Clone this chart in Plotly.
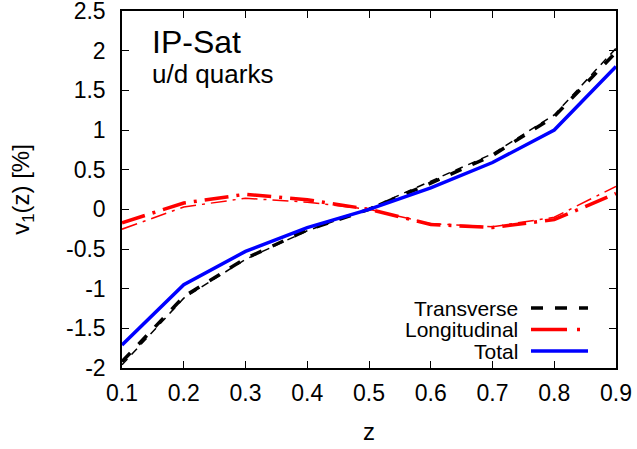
import plotly.graph_objects as go

z = [0.1, 0.2, 0.3, 0.4, 0.5, 0.6, 0.7, 0.8, 0.9]
transverse = [-1.92, -1.10, -0.62, -0.26, 0.0, 0.33, 0.68, 1.17, 1.98]
transverse_thin = [-1.96, -1.12, -0.63, -0.27, 0.01, 0.35, 0.70, 1.19, 2.03]
longitudinal = [-0.17, 0.08, 0.19, 0.12, 0.0, -0.19, -0.23, -0.13, 0.20]
longitudinal_thin = [-0.25, 0.03, 0.14, 0.09, 0.0, -0.18, -0.22, -0.10, 0.29]
total = [-1.71, -0.95, -0.53, -0.23, 0.0, 0.27, 0.59, 1.0, 1.80]

x_ticks = [0.1, 0.2, 0.3, 0.4, 0.5, 0.6, 0.7, 0.8, 0.9]
y_ticks = [-2, -1.5, -1, -0.5, 0, 0.5, 1, 1.5, 2, 2.5]
y_tick_text = ["-2", "-1.5", "-1", "-0.5", "0", "0.5", "1", "1.5", "2", "2.5"]

FONT = "Liberation Sans"

ML, MR, MT, MB = 122, 21, 11, 81

fig = go.Figure()
fig.add_trace(go.Scatter(x=z, y=transverse_thin, mode="lines", showlegend=False,
                         line=dict(color="black", width=1.5, dash="8px,6px")))
fig.add_trace(go.Scatter(x=z, y=transverse, mode="lines", name="Transverse", showlegend=False,
                         line=dict(color="black", width=3.5, dash="12px,12px")))
fig.add_trace(go.Scatter(x=z, y=longitudinal_thin, mode="lines", showlegend=False,
                         line=dict(color="#ff0000", width=1.5, dash="16px,6px,3px,6px")))
fig.add_trace(go.Scatter(x=z, y=longitudinal, mode="lines", name="Longitudinal", showlegend=False,
                         line=dict(color="#ff0000", width=3.5, dash="24px,8px,3px,8px")))
fig.add_trace(go.Scatter(x=z, y=total, mode="lines", name="Total", showlegend=False,
                         line=dict(color="#0000ff", width=3.5)))

H = 368 - MT
W = 616 - 122


def px_x(p):
    return (p - 122) / W


def px_y(p):
    return 1 - (p - MT) / H


# legend (text right, sample line to the right of the text)
legend_items = [("Transverse", "black", "12px,12px"),
                ("Longitudinal", "#ff0000", "36px,10px,3px,10px"),
                ("Total", "#0000ff", "solid")]
for i, (label, color, dash) in enumerate(legend_items):
    ypix = 308 + i * 21.5
    fig.add_annotation(xref="paper", yref="paper", x=px_x(520), y=px_y(ypix),
                       text=label, showarrow=False, xanchor="right", yanchor="middle",
                       font=dict(family=FONT, size=21, color="black"))
    fig.add_shape(type="line", xref="paper", yref="paper",
                  x0=px_x(531), x1=px_x(588), y0=px_y(ypix), y1=px_y(ypix),
                  line=dict(color=color, width=3.5, dash=dash))

fig.add_annotation(xref="paper", yref="paper", x=px_x(150), y=px_y(42),
                   text="IP-Sat", showarrow=False, xanchor="left", yanchor="middle",
                   font=dict(family=FONT, size=32, color="black"))
fig.add_annotation(xref="paper", yref="paper", x=px_x(150), y=px_y(74),
                   text="u/d quarks", showarrow=False, xanchor="left", yanchor="middle",
                   font=dict(family=FONT, size=26, color="black"))

axis_common = dict(showgrid=False, zeroline=False, showline=True, linecolor="black",
                   linewidth=1.5, mirror="ticks", ticks="inside", ticklen=7,
                   tickcolor="black", tickwidth=1, automargin=False,
                   ticklabeloverflow="allow",
                   tickfont=dict(family=FONT, size=23, color="black"))

fig.update_xaxes(range=[0.1, 0.9], tickvals=x_ticks, ticktext=[str(v) for v in x_ticks],
                 ticklabelstandoff=4,
                 title=dict(text="z", font=dict(family=FONT, size=24, color="black"), standoff=18),
                 **axis_common)
fig.update_yaxes(range=[-2, 2.5], tickvals=y_ticks, ticktext=y_tick_text,
                 ticklabelstandoff=10,
                 title=dict(text="v<sub>1</sub>(z) [%]", font=dict(family=FONT, size=24, color="black"),
                            standoff=30),
                 **axis_common)

fig.update_layout(width=637, height=449,
                  margin=dict(l=ML, r=MR, t=MT, b=MB, autoexpand=False),
                  paper_bgcolor="white", plot_bgcolor="white", showlegend=False)

fig.write_html("out.html", config={"displayModeBar": False},
               post_script="document.body.style.margin='0';document.body.style.overflow='hidden';")
